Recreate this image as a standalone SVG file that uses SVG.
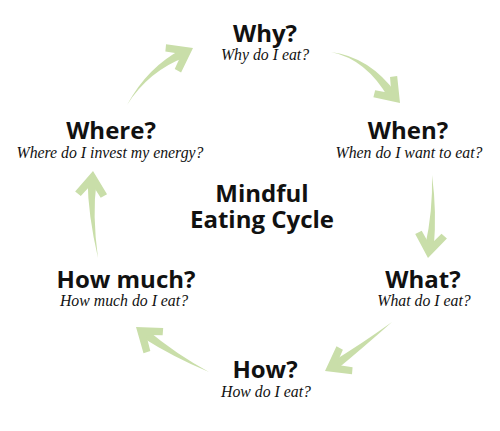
<svg xmlns="http://www.w3.org/2000/svg" width="500" height="431" viewBox="0 0 500 431">
<style>
.t{font-family:"Open Sans","Noto Sans",sans-serif;font-weight:bold;font-size:24px;fill:#111;text-anchor:middle}
.s{font-family:"Liberation Serif","Times New Roman",serif;font-style:italic;font-size:15.8px;fill:#111;text-anchor:middle}
.c{font-family:"Open Sans","Noto Sans",sans-serif;font-weight:bold;font-size:24px;fill:#111;text-anchor:middle}
.b{fill:#c9dea9}
</style>
<defs>
<polygon id="head" points="0,0 16,22 10,26 0,13 -10,26 -16,22" fill="#c9dea9"/>
</defs>
<rect width="500" height="431" fill="#fff"/>
<g id="connectors">
<g id="a1"><path class="b" d="M127,105 Q148.8,70.8 185.8,57.1 L182.2,48.9 Q147.2,67.2 127,105Z"/><use href="#head" transform="translate(193,48) rotate(62)"/></g>
<g id="a2"><path class="b" d="M331,52 Q366.3,59.1 389,98.7 L396.5,93.7 Q369.7,56.9 331,52Z"/><use href="#head" transform="translate(400,103) rotate(138)"/></g>
<g id="a3"><path class="b" d="M432,175 Q433,211.7 424.9,247.4 L433.7,248.8 Q437,212.3 432,175Z"/><use href="#head" transform="translate(428,258) rotate(188)"/></g>
<g id="a4"><path class="b" d="M392,322 Q360.8,344.4 331.1,362.4 L336.3,369.8 Q363.2,347.6 392,322Z"/><use href="#head" transform="translate(325,371) rotate(-119)"/></g>
<g id="a5"><path class="b" d="M209,372 Q176.2,354.4 146.6,329.6 L141.2,336.8 Q173.8,357.6 209,372Z"/><use href="#head" transform="translate(136,327) rotate(-52)"/></g>
<g id="a6"><path class="b" d="M98,258 Q92,215.1 96.6,181.3 L87.6,180.7 Q88,214.9 98,258Z"/><use href="#head" transform="translate(93,171) rotate(5)"/></g>
</g>
<g id="why"><text class="t" x="265" y="42">Why?</text><text class="s" x="265" y="60">Why do I eat?</text></g>
<g id="when"><text class="t" x="408" y="139">When?</text><text class="s" x="409" y="158">When do I want to eat?</text></g>
<g id="what"><text class="t" x="423" y="288">What?</text><text class="s" x="424" y="306">What do I eat?</text></g>
<g id="how"><text class="t" x="265" y="378">How?</text><text class="s" x="266" y="397">How do I eat?</text></g>
<g id="howmuch"><text class="t" x="126" y="288">How much?</text><text class="s" x="124" y="306">How much do I eat?</text></g>
<g id="where"><text class="t" x="111" y="139">Where?</text><text class="s" x="110" y="158">Where do I invest my energy?</text></g>
<g id="center"><text class="c" x="262" y="202">Mindful</text><text class="c" x="262" y="228">Eating Cycle</text></g>
</svg>
